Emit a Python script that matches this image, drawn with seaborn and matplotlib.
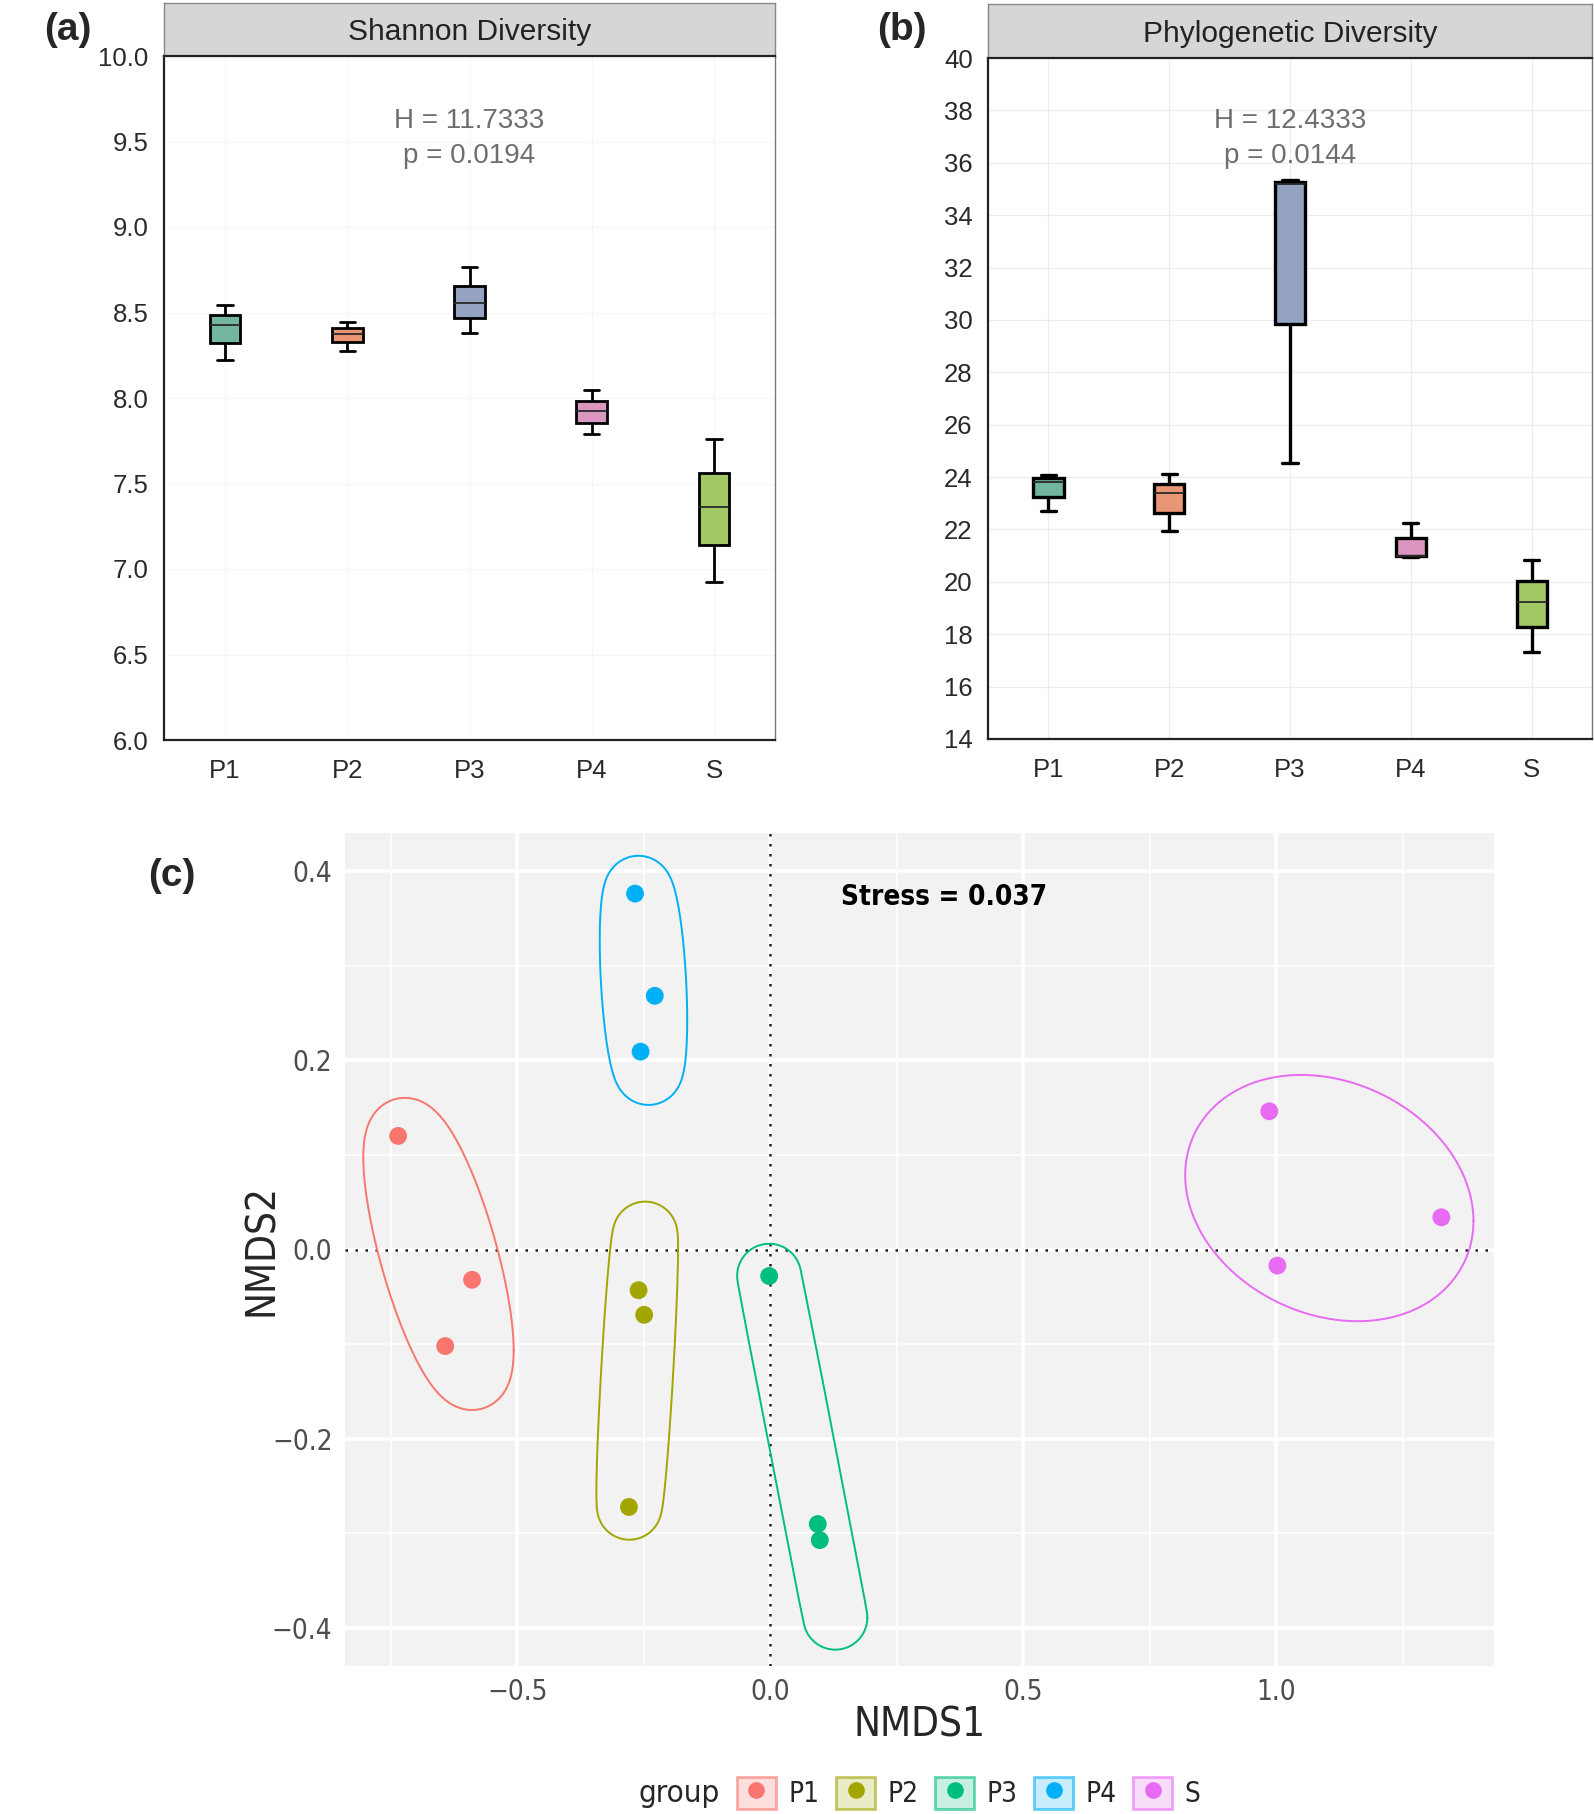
import numpy as np
import pandas as pd
import matplotlib
matplotlib.use("Agg")
import matplotlib.pyplot as plt
import seaborn as sns
from matplotlib import font_manager
from matplotlib.font_manager import FontProperties
from matplotlib.patches import Rectangle
from matplotlib.lines import Line2D

# ---------------- data ----------------
groups = ["P1", "P2", "P3", "P4", "S"]
box_colors = ["#66C2A5", "#FC8D62", "#8DA0CB", "#E78AC3", "#A6D854"]
hue_colors = ["#F8766D", "#A3A500", "#00BF7D", "#00B0F6", "#E76BF3"]

# five-number summaries (min, q1, median, q3, max)
shannon_P1 = [8.221, 8.322, 8.427, 8.487, 8.546]
shannon_P2 = [8.275, 8.328, 8.373, 8.409, 8.442]
shannon_P3 = [8.382, 8.466, 8.555, 8.654, 8.764]
shannon_P4 = [7.788, 7.851, 7.922, 7.982, 8.048]
shannon_S = [6.925, 7.143, 7.364, 7.561, 7.758]

pd_P1 = [22.71, 23.25, 23.80, 23.95, 24.09]
pd_P2 = [21.93, 22.63, 23.39, 23.74, 24.11]
pd_P3 = [24.52, 29.83, 35.20, 35.27, 35.35]
pd_P4 = [20.95, 20.97, 20.99, 21.66, 22.26]
pd_S = [17.31, 18.27, 19.22, 20.02, 20.82]

shannon_text = "H = 11.7333\np = 0.0194"
pd_text = "H = 12.4333\np = 0.0144"

nmds_group = ["P1"] * 3 + ["P2"] * 3 + ["P3"] * 3 + ["P4"] * 3 + ["S"] * 3
nmds1 = [-0.735, -0.589, -0.642,
         -0.260, -0.249, -0.279,
         -0.002, 0.094, 0.098,
         -0.267, -0.228, -0.256,
         0.986, 1.326, 1.002]
nmds2 = [0.120, -0.032, -0.102,
         -0.043, -0.069, -0.272,
         -0.028, -0.290, -0.307,
         0.376, 0.268, 0.209,
         0.146, 0.034, -0.017]
stress_text = "Stress = 0.037"

# ---------------- fonts ----------------
names = {f.name for f in font_manager.fontManager.ttflist}
base = "Liberation Sans" if "Liberation Sans" in names else "DejaVu Sans"
sns.set_style("white")
plt.rcParams["font.family"] = [base, "DejaVu Sans"]


def find_narrow(bold):
    best = None
    for f in font_manager.fontManager.ttflist:
        fn = f.fname.lower().replace("-", "").replace("_", "")
        if not ("narrow" in fn or "condensed" in fn):
            continue
        if "mono" in fn or "serif" in fn or "italic" in fn or "oblique" in fn:
            continue
        if "sans" not in fn:
            continue
        isbold = "bold" in fn
        if isbold != bold:
            continue
        score = 2 if "liberation" in fn else 1
        if best is None or score > best[0]:
            best = (score, f.fname)
    return best[1] if best else None


nr_path = find_narrow(False)
nb_path = find_narrow(True)
has_narrow = nr_path is not None


def nfp(size, bold=False):
    if bold and nb_path:
        return FontProperties(fname=nb_path, size=size)
    if (not bold) and nr_path:
        return FontProperties(fname=nr_path, size=size)
    return FontProperties(family=base, size=size,
                          weight="bold" if bold else "normal")


sz_tick = 20 if has_narrow else 18.5
sz_lab = 29 if has_narrow else 27
sz_stress = 20 if has_narrow else 19
sz_leg = 20 if has_narrow else 18.5
sz_title = 22.5 if has_narrow else 21

W, H = 1594, 1814
fig = plt.figure(figsize=(W / 100, H / 100), dpi=100)


def fr(x0, y0, x1, y1):
    return [x0 / W, 1 - y1 / H, (x1 - x0) / W, (y1 - y0) / H]


# ---------------- box panels ----------------
def box_panel(ax, strip, values, title, ytks, ylim, ann, ann_y, lw, gridc):
    df = pd.DataFrame({"group": np.repeat(groups, 5),
                       "value": np.concatenate(values)})
    sns.boxplot(data=df, x="group", y="value", hue="group", order=groups,
                hue_order=groups, palette=box_colors, width=0.25,
                whis=(0, 100), linecolor="black", linewidth=lw,
                legend=False, ax=ax,
                medianprops=dict(color="#2a2a2a", linewidth=1.3))
    ax.set_xlim(-0.5, 4.5)
    ax.set_ylim(*ylim)
    ax.set_yticks(ytks)
    ax.set_xlabel("")
    ax.set_ylabel("")
    ax.grid(True, color=gridc, lw=0.8)
    ax.set_axisbelow(True)
    for s in ["left", "bottom"]:
        ax.spines[s].set_color("#222222")
        ax.spines[s].set_linewidth(1.6)
    ax.spines["top"].set_visible(False)
    ax.spines["right"].set_color("#777777")
    ax.spines["right"].set_linewidth(1.0)
    ax.tick_params(axis="both", length=6, width=1.2, color="#333333",
                   labelsize=18.5, labelcolor="#2a2a2a", pad=5)
    ax.tick_params(axis="x", pad=8)
    ax.text(2, ann_y, ann, ha="center", va="center", fontsize=20,
            color="#6e6e6e", linespacing=1.45)
    strip.set_facecolor("#D6D6D6")
    strip.set_xticks([])
    strip.set_yticks([])
    for s in ["left", "right", "top"]:
        strip.spines[s].set_color("#888888")
        strip.spines[s].set_linewidth(1.0)
    strip.spines["bottom"].set_color("#222222")
    strip.spines["bottom"].set_linewidth(1.6)
    strip.text(0.5, 0.45, title, ha="center", va="center", fontsize=21.5,
               color="#222222", transform=strip.transAxes)


axA = fig.add_axes(fr(164, 56, 775, 740))
stripA = fig.add_axes(fr(164, 3, 775, 56))
box_panel(axA, stripA, [shannon_P1, shannon_P2, shannon_P3, shannon_P4, shannon_S],
          "Shannon Diversity", np.arange(6.0, 10.01, 0.5), (6.0, 10.0),
          shannon_text, 9.52, 2.0, "#F6F6F6")
axA.set_yticklabels([f"{v:.1f}" for v in np.arange(6.0, 10.01, 0.5)])

axB = fig.add_axes(fr(988, 58, 1592, 739))
stripB = fig.add_axes(fr(988, 4, 1592, 58))
box_panel(axB, stripB, [pd_P1, pd_P2, pd_P3, pd_P4, pd_S],
          "Phylogenetic Diversity", np.arange(14, 41, 2), (14, 40),
          pd_text, 36.92, 2.4, "#ECECEC")

fig.text(44 / W, 1 - 30 / H, "(a)", fontsize=28, fontweight="bold",
         va="center", ha="left")
fig.text(877 / W, 1 - 30 / H, "(b)", fontsize=28, fontweight="bold",
         va="center", ha="left")
fig.text(148 / W, 1 - 876 / H, "(c)", fontsize=28, fontweight="bold",
         va="center", ha="left")

# ---------------- NMDS panel ----------------
axC = fig.add_axes(fr(345, 833, 1494, 1666))
dfC = pd.DataFrame({"group": nmds_group, "NMDS1": nmds1, "NMDS2": nmds2})
axC.set_facecolor("#F2F2F2")
axC.set_xlim(-0.84, 1.43)
axC.set_ylim(-0.44, 0.44)
axC.set_xticks([-0.5, 0.0, 0.5, 1.0])
axC.set_xticks([-0.75, -0.25, 0.25, 0.75, 1.25], minor=True)
axC.set_yticks([-0.4, -0.2, 0.0, 0.2, 0.4])
axC.set_yticks([-0.3, -0.1, 0.1, 0.3], minor=True)
axC.grid(which="major", color="white", lw=2.6)
axC.grid(which="minor", color="white", lw=1.2)
axC.set_axisbelow(True)
for s in axC.spines.values():
    s.set_visible(False)
axC.axhline(0, color="#222222", ls=(0, (1, 3)), lw=1.8, zorder=1.5)
axC.axvline(0, color="#222222", ls=(0, (1, 3)), lw=1.8, zorder=1.5)


def mark_ellipse(ax, xy, color, offset_px=32):
    """Minimum enclosing (Steiner) ellipse of the points, grown by a fixed
    screen offset (Minkowski sum with a disc, like geom_mark_ellipse)."""
    disp = ax.transData.transform(xy)
    c = disp.mean(axis=0)
    d = disp - c
    M = 2.0 * (d.T @ d / len(d)) + np.eye(2) * 1e-6
    phi = np.linspace(0, 2 * np.pi, 720)
    n = np.vstack([np.cos(phi), np.sin(phi)])
    Mn = M @ n
    h = np.sqrt(np.sum(n * Mn, axis=0))
    Q = c[:, None] + Mn / h + offset_px * n
    back = ax.transData.inverted().transform(Q.T)
    ax.plot(back[:, 0], back[:, 1], color=color, lw=1.4, zorder=2)


for g, c in zip(groups, hue_colors):
    sub = dfC[dfC["group"] == g][["NMDS1", "NMDS2"]].to_numpy()
    mark_ellipse(axC, sub, c)

sns.scatterplot(data=dfC, x="NMDS1", y="NMDS2", hue="group", hue_order=groups,
                palette=hue_colors, s=165, edgecolor="none", legend=False,
                ax=axC, zorder=3)
axC.tick_params(which="major", length=5, width=1.2, color="#333333",
                labelcolor="#4D4D4D", pad=4)
axC.tick_params(which="minor", length=0)
for lab in axC.get_xticklabels() + axC.get_yticklabels():
    lab.set_fontproperties(nfp(sz_tick))
axC.set_xlabel("NMDS1", fontproperties=nfp(sz_lab))
axC.set_ylabel("NMDS2", fontproperties=nfp(sz_lab))
axC.xaxis.set_label_coords(0.5, -0.047)
axC.yaxis.set_label_coords(-0.055, 0.5)
axC.text(0.139, 0.372, stress_text, fontproperties=nfp(sz_stress, bold=True),
         ha="left", va="center", color="black")

# ---------------- legend ----------------
fig.text(639 / W, 1 - 1793 / H, "group", fontproperties=nfp(sz_title),
         va="center", ha="left")
handles = []
for c in hue_colors:
    rect = Rectangle((0, 0), 1, 1, facecolor=matplotlib.colors.to_rgba(c, 0.22),
                     edgecolor=matplotlib.colors.to_rgba(c, 0.6), lw=2)
    dot = Line2D([], [], ls="none", marker="o", markersize=12, color=c,
                 markeredgewidth=0)
    handles.append((rect, dot))
fig.legend(handles, groups, loc="center left",
           bbox_to_anchor=(737 / W, 1 - 1793 / H), ncol=5, frameon=False,
           prop=nfp(sz_leg), handlelength=1.4,
           handleheight=1.4, handletextpad=0.45, columnspacing=0.6,
           borderpad=0, borderaxespad=0)

fig.savefig("out.png", dpi=100)
